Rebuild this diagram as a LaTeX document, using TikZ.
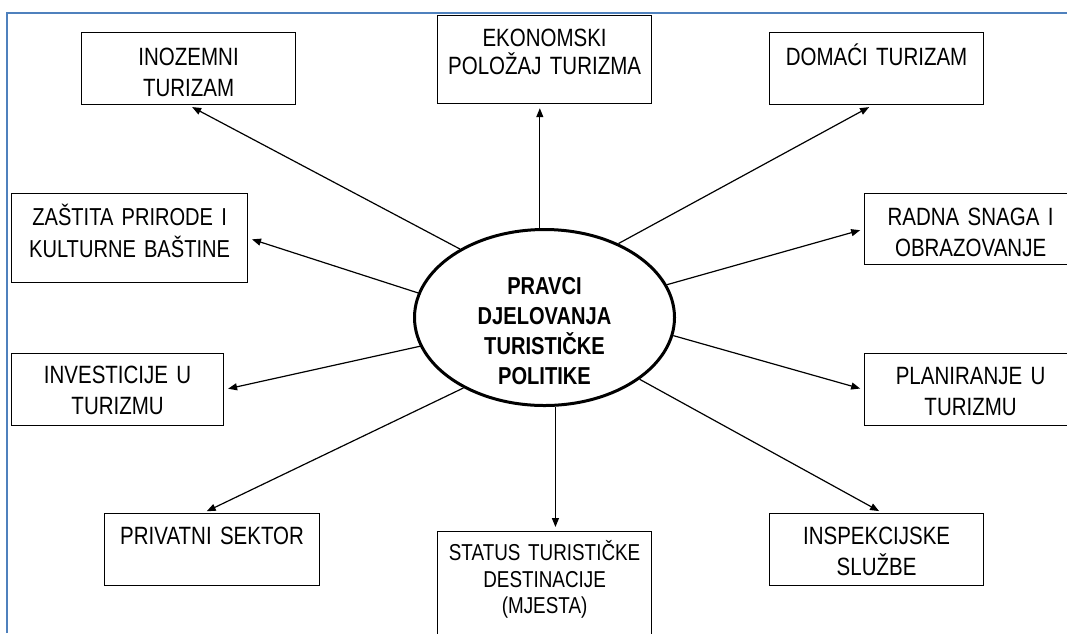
\documentclass[tikz,border=0pt]{standalone}
\usepackage{fontspec}
\setmainfont[FakeStretch=0.82, WordSpace=0.6]{Liberation Sans}
\usetikzlibrary{shapes.geometric, arrows.meta, positioning, calc}
\definecolor{frameblue}{HTML}{4F81BD}

\begin{document}
\begin{tikzpicture}[x=1pt, y=-1pt,
    box/.style={rectangle, draw, line width=1.2pt, anchor=north west, inner sep=0pt,
        text width=214pt, align=center, text height=32pt, text depth=40pt,
        font=\fontsize{25}{31}\selectfont},
    hub/.style={ellipse, draw, line width=3pt, minimum width=260pt, minimum height=176pt,
        inner sep=0pt, text width=170pt, align=center, text height=20pt, text depth=66pt,
        font=\bfseries\fontsize{24.5}{30}\selectfont},
    arr/.style={-{Triangle[length=9pt, width=7pt]}, line width=1.2pt, shorten >=4pt}]

    \useasboundingbox (0,0) rectangle (1067,633);

    % Frame
    \draw[frameblue, line width=2pt] (7,633) -- (7,13) -- (1067,13);

    % Centre
    \node[hub] (pravci) at (544.5,317.5) {PRAVCI\\DJELOVANJA\\TURISTIČKE\\POLITIKE};

    % Top row
    \node[box, text height=33pt, text depth=39pt] (ino) at (81,32) {INOZEMNI\\TURIZAM};
    \node[box, text height=31pt, text depth=57pt, font=\fontsize{25}{28}\selectfont] (eko) at (437,15) {EKONOMSKI\\POLOŽAJ TURIZMA};
    \node[box, text height=33pt, text depth=39pt] (dom) at (769,32) {DOMAĆI TURIZAM};

    % Left and right
    \node[box, text width=236pt, text depth=57pt, font=\fontsize{24.5}{32}\selectfont] (zas) at (11,193) {ZAŠTITA PRIRODE I\\KULTURNE BAŠTINE};
    \node[box, text width=212pt, text height=30pt, text depth=42pt] (inv) at (11,353) {INVESTICIJE U\\TURIZMU};
    \node[box, text width=212pt, text depth=39pt] (rad) at (864,193) {RADNA SNAGA I\\OBRAZOVANJE};
    \node[box, text width=212pt, text height=31pt, text depth=41pt] (pla) at (864,353) {PLANIRANJE U\\TURIZMU};

    % Bottom row
    \node[box, text width=215pt, text height=31pt, text depth=41pt] (pri) at (104,513) {PRIVATNI SEKTOR};
    \node[box, text height=29pt, text depth=81pt, font=\fontsize{23}{26.5}\selectfont] (sta) at (437,531) {STATUS TURISTIČKE\\DESTINACIJE\\(MJESTA)};
    \node[box, text height=31pt, text depth=41pt] (ins) at (769,513) {INSPEKCIJSKE\\SLUŽBE};

    % Arrows
    \draw[arr] (pravci.141) -- (ino.south);
    \draw[arr] (pravci.93) -- (pravci.93 |- eko.south);
    \draw[arr] (pravci.45) -- ([xshift=-4pt]dom.south);
    \draw[arr] (pravci.169) -- (zas.east);
    \draw[arr] (pravci.15) -- (rad.west);
    \draw[arr] (pravci.193) -- (inv.east);
    \draw[arr] (pravci.352) -- (pla.west);
    \draw[arr] (pravci.221) -- ([xshift=-9pt]pri.north);
    \draw[arr] (pravci.277) -- (pravci.277 |- sta.north);
    \draw[arr] (pravci.327) -- ([xshift=6pt]ins.north);

\end{tikzpicture}
\end{document}
